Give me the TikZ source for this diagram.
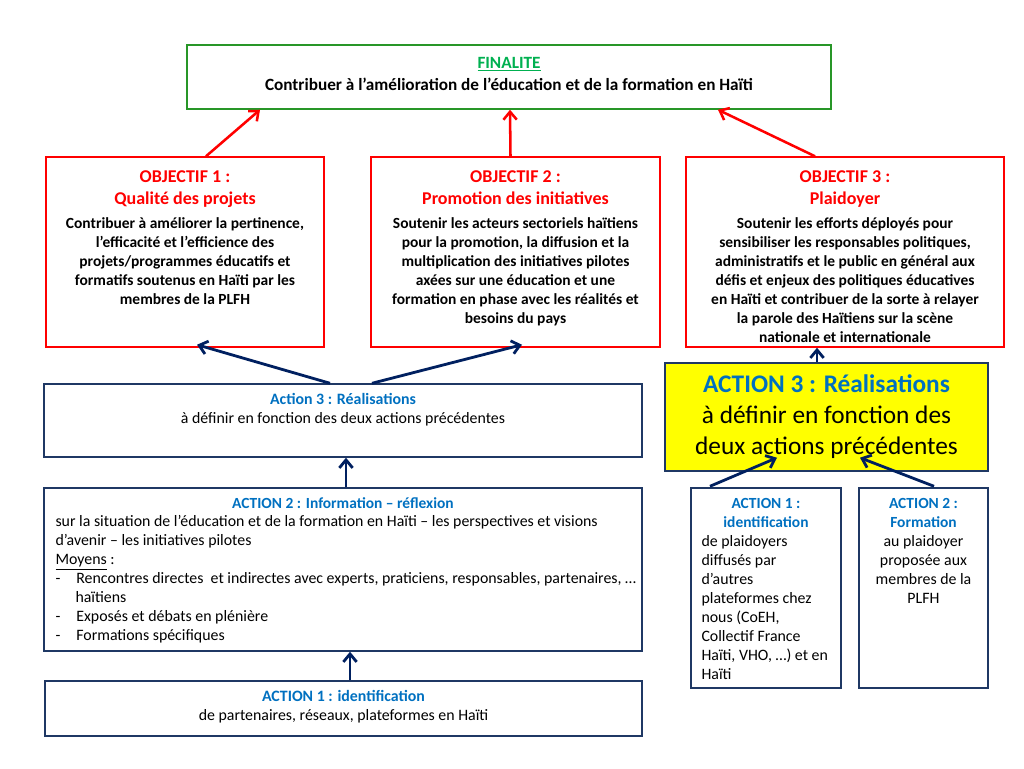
\documentclass[tikz,border=0pt]{standalone}
\usepackage{fontspec}
\setmainfont{Carlito}
\usetikzlibrary{arrows.meta,calc}

\definecolor{rouge}{RGB}{255,0,0}
\definecolor{vert}{RGB}{40,150,40}
\definecolor{vertclair}{RGB}{0,176,80}
\definecolor{marine}{RGB}{31,56,100}
\definecolor{fleche}{RGB}{0,32,96}
\definecolor{bleu}{RGB}{0,112,192}
\definecolor{jaune}{RGB}{255,255,0}

\tikzset{
  box/.style={draw, line width=1.1pt, inner sep=0pt},
  objbox/.style={box, draw=rouge},
  actbox/.style={box, draw=marine},
  txt/.style={inner sep=0pt, align=center, font=\fontsize{11.9}{14.25}\selectfont},
  boldtxt/.style={txt, font=\bfseries\fontsize{11.6}{14.25}\selectfont},
  bigtxt/.style={inner sep=0pt, align=center, font=\bfseries\fontsize{13.5}{16.5}\selectfont},
  redarrow/.style={draw=rouge, line width=1.9pt, -{Straight Barb[length=6pt,width=10pt]}},
  bluearrow/.style={draw=fleche, line width=2.1pt, -{Straight Barb[length=6pt,width=10pt]}}
}

\begin{document}
\begin{tikzpicture}[x=0.75pt,y=-0.75pt]
\useasboundingbox (0,0) rectangle (1024,768);

% Finalite
\node[box, draw=vert, minimum width=483pt, minimum height=48pt] (fin) at (509,77) {};
\node[bigtxt, anchor=north, font=\bfseries\fontsize{12.9}{16.5}\selectfont] (fintxt) at ($(fin.north)+(0,12.5)$)
  {\textcolor{vertclair}{\underline{FINALITE}}\\ Contribuer à l’amélioration de l’éducation et de la formation en Haïti};

% Objectifs
\node[objbox, minimum width=208.5pt, minimum height=142.5pt] (obj1) at (185,252) {};
\node[objbox, minimum width=216.75pt, minimum height=142.5pt] (obj2) at (515.5,252) {};
\node[objbox, minimum width=238.5pt, minimum height=142.5pt] (obj3) at (845,252) {};

\node[bigtxt, anchor=north, text=rouge] (obj1t) at ($(obj1.north)+(0,14.5)$)
  {OBJECTIF 1 :\\ Qualité des projets};
\node[boldtxt, anchor=north] (obj1b) at ($(obj1.north)+(0,61)$)
  {Contribuer à améliorer la pertinence,\\ l’efficacité et l’efficience des\\ projets/programmes éducatifs et\\ formatifs soutenus en Haïti par les\\ membres de la PLFH};

\node[bigtxt, anchor=north, text=rouge] (obj2t) at ($(obj2.north)+(0,14.5)$)
  {OBJECTIF 2 :\\ Promotion des initiatives};
\node[boldtxt, anchor=north] (obj2b) at ($(obj2.north)+(0,61)$)
  {Soutenir les acteurs sectoriels haïtiens\\ pour la promotion, la diffusion et la\\ multiplication des initiatives pilotes\\ axées sur une éducation et une\\ formation en phase avec les réalités et\\ besoins du pays};

\node[bigtxt, anchor=north, text=rouge] (obj3t) at ($(obj3.north)+(0,14.5)$)
  {OBJECTIF 3 :\\ Plaidoyer};
\node[boldtxt, anchor=north] (obj3b) at ($(obj3.north)+(0,61)$)
  {Soutenir les efforts déployés pour\\ sensibiliser les responsables politiques,\\ administratifs et le public en général aux\\ défis et enjeux des politiques éducatives\\ en Haïti et contribuer de la sorte à relayer\\ la parole des Haïtiens sur la scène\\ nationale et internationale};

% Actions (colonne de gauche)
\node[actbox, minimum width=448.5pt, minimum height=54.75pt] (act3) at (343,420.5) {};
\node[txt, anchor=north] (act3t) at ($(act3.north)+(0,10)$)
  {\textcolor{bleu}{\bfseries Action 3 : Réalisations}\\ à définir en fonction des deux actions précédentes};

\node[actbox, minimum width=448.5pt, minimum height=122.25pt] (act2) at (343,569.5) {};
\node[boldtxt, anchor=north, text=bleu] (act2t) at ($(act2.north)+(0,10)$)
  {ACTION 2 : Information – réflexion};
\node[txt, anchor=north west, align=left] (act2b) at ($(act2.north west)+(12,28)$)
  {sur la situation de l’éducation et de la formation en Haïti – les perspectives et visions\\
   d’avenir – les initiatives pilotes\\
   \underline{Moyens} :\\
   -\hspace{12pt}Rencontres directes\ \ et indirectes avec experts, praticiens, responsables, partenaires, …\\
   \hspace*{15pt}haïtiens\\
   -\hspace{12pt}Exposés et débats en plénière\\
   -\hspace{12pt}Formations spécifiques};

\node[actbox, minimum width=447.75pt, minimum height=41.25pt] (act1) at (343.5,708.5) {};
\node[txt, anchor=north] (act1t) at ($(act1.north)+(0,10)$)
  {\textcolor{bleu}{\bfseries ACTION 1 : identification}\\ de partenaires, réseaux, plateformes en Haïti};

% Actions du plaidoyer (colonne de droite)
\node[box, draw=marine, fill=jaune, minimum width=242.25pt, minimum height=81pt] (yel) at (826.5,417) {};
\node[txt, anchor=north, font=\fontsize{19}{23.25}\selectfont] (yelt) at ($(yel.north)+(0,12.5)$)
  {\textcolor{bleu}{\bfseries ACTION 3 : Réalisations}\\ à définir en fonction des\\ deux actions précédentes};

\node[actbox, minimum width=112.5pt, minimum height=150pt] (plA) at (766,588) {};
\node[boldtxt, anchor=north, text=bleu] (plAt) at ($(plA.north)+(0,11)$)
  {ACTION 1 :\\ identification};
\node[txt, anchor=north west, align=left] (plAb) at ($(plA.north west)+(11,48)$)
  {de plaidoyers\\ diffusés par\\ d’autres\\ plateformes chez\\ nous (CoEH,\\ Collectif France\\ Haïti, VHO, …) et en\\ Haïti};

\node[actbox, minimum width=96.75pt, minimum height=150pt] (plB) at (923.5,588) {};
\node[boldtxt, anchor=north, text=bleu] (plBt) at ($(plB.north)+(0,11)$)
  {ACTION 2 :\\ Formation};
\node[txt, anchor=north] (plBb) at ($(plB.north)+(0,48)$)
  {au plaidoyer\\ proposée aux\\ membres de la\\ PLFH};

% Red arrows towards the finality
\draw[redarrow] ($(obj1.north)+(21,0)$) -- ($(fin.south)+(-249,0)$);
\draw[redarrow] ($(obj2.north)+(-5,0)$) -- ($(fin.south)+(1,0)$);
\draw[redarrow] ($(obj3.north)+(-30,0)$) -- ($(fin.south)+(209,0)$);

% Blue arrows between actions
\draw[bluearrow] ($(act3.north)+(-13,0)$) -- ($(obj1.south)+(12,-3)$);
\draw[bluearrow] ($(act3.north)+(29,0)$) -- ($(obj2.south)+(6.5,-3)$);
\draw[bluearrow] ($(act2.north)+(3,0)$) -- ($(act3.south)+(3,0)$);
\draw[bluearrow] ($(act1.north)+(6.5,0)$) -- ($(act2.south)+(7,0)$);
\draw[bluearrow] ($(yel.north)+(-9.5,0)$) -- ($(obj3.south)+(-28,0)$);
\draw[bluearrow] ($(plA.north)+(-56,-1)$) -- ($(yel.south)+(-49.5,-14)$);
\draw[bluearrow] ($(plB.north)+(10.5,-1)$) -- ($(yel.south)+(33.5,-14)$);

\end{tikzpicture}
\end{document}
